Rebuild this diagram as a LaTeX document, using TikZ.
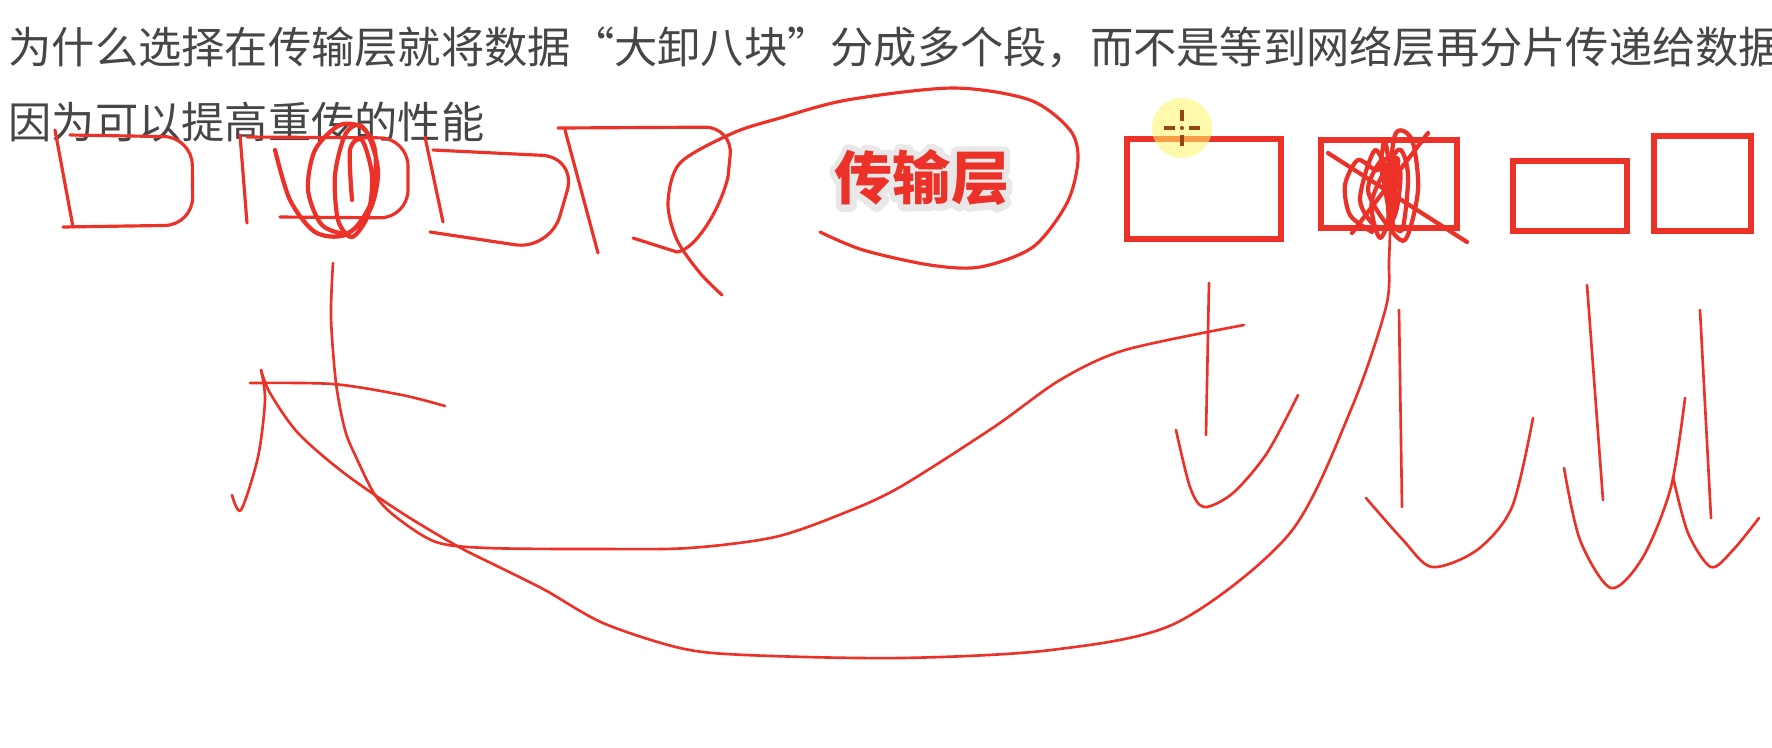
\documentclass[tikz,border=0pt]{standalone}
\usepackage{fontspec}
\usepackage{tikz}
\newfontfamily\cjk{Noto Sans CJK SC}
\definecolor{pen}{RGB}{236,50,40}
\definecolor{txt}{RGB}{70,70,70}
\definecolor{cur}{RGB}{150,70,20}
\newcommand{\halo}[1]{\special{pdf:literal direct 1 Tr 3.6 w 1 j 0.91 0.91 0.91 RG}#1\special{pdf:literal direct 0 Tr 1 w}}
\tikzset{
  stroke/.style={draw=pen, line width=0.9pt, line cap=round, line join=round},
  thin/.style={stroke, line width=0.75pt},
  seg/.style={draw=pen, line width=1.5pt},
  scrib/.style={stroke, line width=1.2pt},
  qtext/.style={font=\cjk\fontsize{12.3}{14}\selectfont, text=txt, inner sep=0pt, anchor=west},
  tag/.style={font=\cjk\bfseries\fontsize{16.5}{18}\selectfont, inner sep=0pt}
}

\begin{document}
\begin{tikzpicture}[x=0.01cm, y=-0.01cm]
\useasboundingbox (0,0) rectangle (1772,747);
\fill[white] (0,0) rectangle (1772,747);
\clip (0,0) rectangle (1772,747);

% question and answer
\node[qtext] (q1) at (8,47) {为什么选择在传输层就将数据“大卸八块”分成多个段，而不是等到网络层再分片传递给数据};
\node[qtext] (q2) at (8,122) {因为可以提高重传的性能};

% left: segments drawn by hand
\draw[stroke] (55,130) -- (73,227);
\draw[stroke, rounded corners=8] (70,135) -- (192,137) -- (193,225) -- (63,227);
\draw[stroke] (240,135) -- (247,223);
\draw[stroke, rounded corners=8] (247,137) -- (408,138) -- (408,218) -- (280,217);
\draw[scrib] plot[smooth] coordinates {(275,150) (290,200) (315,232) (345,235) (370,210) (378,170)
  (365,130) (340,125) (315,150) (308,190) (322,225) (350,232) (372,200) (375,150) (360,125)
  (345,135) (335,175) (338,220) (352,237) (368,215) (372,175) (362,140) (350,150) (352,200)};
\draw[stroke] (425,137) -- (443,222);
\draw[stroke, rounded corners=10] (433,150) -- (577,157) -- (550,250) -- (430,232);
\draw[stroke] (565,130) -- (598,253);
\draw[stroke, rounded corners=8] (558,128) -- (733,127) -- (728,177);
\draw[stroke] (728,177) .. controls (720,210) and (695,250) .. (677,252) -- (633,238);
\draw[stroke] plot[smooth] coordinates {(722,295) (700,273) (677,240) (668,203) (680,163) (733,133)
  (780,118) (847,100) (953,88) (1030,100) (1070,130) (1078,160) (1067,203) (1033,247)
  (980,267) (930,265) (863,250) (820,232)};

% label
\node[tag, text=white] (glow) at (922,178) {\halo{传输层}};
\node[tag, text=pen] (tag) at (922,178) {传输层};

% right: segments
\draw[seg] (1127,139) rectangle (1281,239);
\draw[seg] (1321,140) rectangle (1457,228);
\draw[seg] (1513,161) rectangle (1627,231);
\draw[seg] (1654,136) rectangle (1751,231);

% crossed out segment
\draw[scrib] (1328,153) -- (1467,242);
\draw[scrib] (1428,133) -- (1352,233);
\draw[scrib] plot[smooth] coordinates {(1372,232) (1350,215) (1345,185) (1358,160) (1378,170)
  (1385,140) (1392,205) (1380,238) (1372,200) (1398,150) (1408,175) (1402,230) (1388,210)
  (1395,135) (1412,140) (1418,190) (1405,240) (1385,222) (1368,190) (1382,160) (1400,170)
  (1395,215) (1378,228) (1360,200) (1375,150) (1390,180)};
\draw[stroke, line width=2.5pt] (1383,165) -- (1392,215) (1396,160) -- (1390,225);

% arrows down
\draw[thin] (1209,283) -- (1206,435);
\draw[thin] plot[smooth] coordinates {(1176,430) (1190,487) (1204,507) (1233,493) (1267,453) (1298,395)};
\draw[thin] (1399,310) -- (1402,507);
\draw[thin] plot[smooth] coordinates {(1366,498) (1403,540) (1432,567) (1477,550) (1512,507) (1533,418)};
\draw[thin] (1587,285) -- (1603,500);
\draw[thin] plot[smooth] coordinates {(1564,468) (1580,540) (1611,588) (1643,557) (1671,487) (1685,398)};
\draw[thin] (1700,310) -- (1711,518);
\draw[thin] plot[smooth] coordinates {(1673,477) (1688,533) (1711,567) (1733,550) (1759,518)};

% arrows back to the left
\draw[thin] plot[smooth] coordinates {(333,263) (331,317) (336,383) (345,430) (356,457) (375,495)
  (396,517) (436,542) (488,548) (600,549) (689,548) (775,537) (844,513) (900,487)
  (994,427) (1060,380) (1125,350) (1244,325)};
\draw[thin] plot[smooth] coordinates {(1390,233) (1389,260) (1386,307) (1352,407) (1290,533)
  (1176,623) (1051,650) (900,658) (746,655) (680,648) (603,623) (545,590) (499,567)
  (459,547) (402,513) (344,473) (298,433) (270,393) (261,370)};
\draw[thin] plot[smooth] coordinates {(261,370) (265,400) (258,457) (241,510) (232,495)};
\draw[thin] plot[smooth] coordinates {(250,383) (333,384) (402,395) (445,406)};

% pointer
\fill[yellow!60, opacity=0.55] (1182,128) circle [radius=30];
\draw[cur, line width=1.1pt] (1182,110) -- (1182,121) (1182,135) -- (1182,146)
  (1164,128) -- (1175,128) (1189,128) -- (1200,128);
\fill[cur] (1182,128) circle [radius=2];
\end{tikzpicture}
\end{document}
